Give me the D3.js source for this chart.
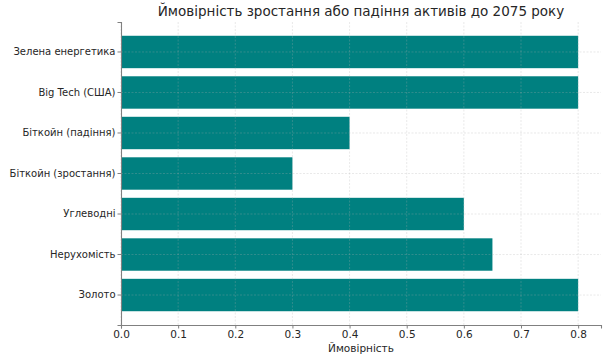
<!DOCTYPE html>
<html>
<head>
<meta charset="utf-8">
<script src="https://cdn.jsdelivr.net/npm/d3@7"></script>
<style>
  body { margin: 0; background: #fff; }
  svg { font-family: "DejaVu Sans", sans-serif; }
</style>
</head>
<body>
<div id="chart"></div>
<script>
// categories listed top to bottom as in the picture
const categories = ['Зелена енергетика', 'Big Tech (США)', 'Біткойн (падіння)', 'Біткойн (зростання)', 'Углеводні', 'Нерухомість', 'Золото'];
const values = [0.8, 0.8, 0.4, 0.3, 0.6, 0.65, 0.8];
const xTicks = [0, 0.1, 0.2, 0.3, 0.4, 0.5, 0.6, 0.7, 0.8];

const width = 610;
const height = 362;
const margin = {top: 22, right: 9, bottom: 37, left: 121};

const svg = d3.select('#chart')
    .append('svg')
    .attr('width', width)
    .attr('height', height);

const x = d3.scaleLinear()
    .domain([0, 0.84])
    .range([margin.left, width - margin.right]);

const y = d3.scaleBand()
    .domain(categories)
    .range([margin.top, height - margin.bottom])
    .paddingInner(0.2)
    .paddingOuter(0.34);

const data = categories.map((c, i) => ({name: c, value: values[i]}));

svg.append('g')
    .selectAll('rect')
    .data(data)
    .enter()
    .append('rect')
    .attr('x', x(0))
    .attr('y', d => y(d.name))
    .attr('width', d => x(d.value) - x(0))
    .attr('height', y.bandwidth())
    .attr('fill', '#008080');

// grid on top of the bars, faint
const grid = svg.append('g')
    .attr('stroke', '#b0b0b0')
    .attr('stroke-opacity', 0.35)
    .attr('stroke-width', 0.8)
    .attr('stroke-dasharray', '2,1.5');

grid.selectAll('.vgrid')
    .data(xTicks)
    .enter()
    .append('line')
    .attr('x1', d => x(d))
    .attr('x2', d => x(d))
    .attr('y1', margin.top)
    .attr('y2', height - margin.bottom);

grid.selectAll('.hgrid')
    .data(categories)
    .enter()
    .append('line')
    .attr('x1', margin.left)
    .attr('x2', width - margin.right)
    .attr('y1', d => y(d) + y.bandwidth() / 2)
    .attr('y2', d => y(d) + y.bandwidth() / 2);

const xAxis = svg.append('g')
    .attr('transform', `translate(0,${height - margin.bottom})`)
    .call(d3.axisBottom(x).tickValues(xTicks).tickFormat(d3.format('.1f')).tickSize(3.5).tickPadding(2));

const yAxis = svg.append('g')
    .attr('transform', `translate(${margin.left},0)`)
    .call(d3.axisLeft(y).tickSize(3.5).tickPadding(2));

[xAxis, yAxis].forEach(ax => {
    ax.select('.domain').attr('stroke', '#808080').attr('stroke-width', 1.1);
    ax.selectAll('.tick line').attr('stroke', '#808080');
    ax.selectAll('.tick text')
        .attr('fill', '#262626')
        .style('font-size', '10px')
        .style('font-family', '"DejaVu Sans", sans-serif');
});
xAxis.selectAll('.tick text').style('font-size', '10.5px');

svg.append('text')
    .attr('x', (margin.left + width - margin.right) / 2)
    .attr('y', 352)
    .attr('text-anchor', 'middle')
    .attr('fill', '#262626')
    .style('font-size', '10.5px')
    .text('Ймовірність');

svg.append('text')
    .attr('x', (margin.left + width - margin.right) / 2)
    .attr('y', 16)
    .attr('text-anchor', 'middle')
    .attr('fill', '#262626')
    .style('font-size', '13.5px')
    .text('Ймовірність зростання або падіння активів до 2075 року');
</script>
</body>
</html>
